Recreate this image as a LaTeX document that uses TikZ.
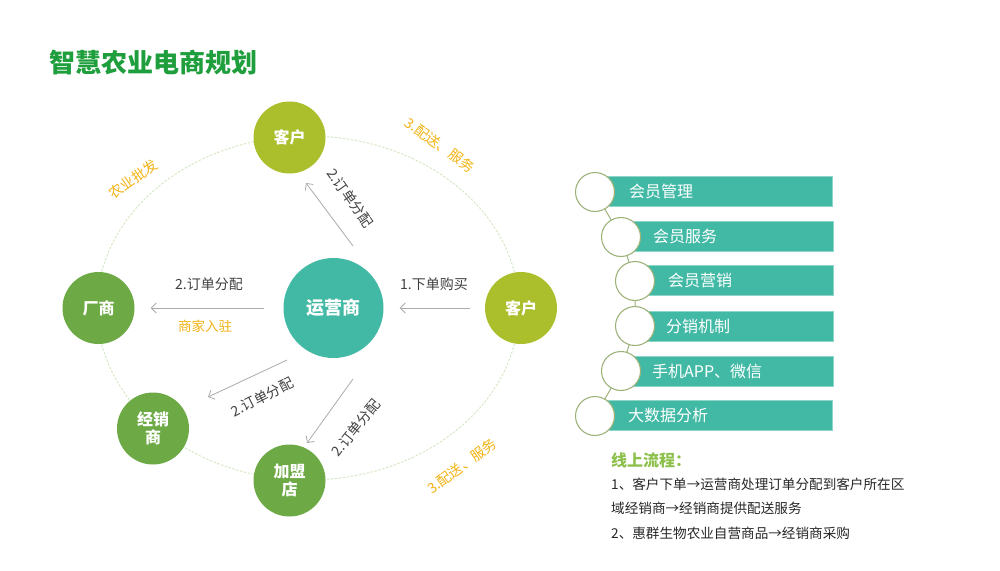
\documentclass[tikz,border=0pt]{standalone}
\usepackage{fontspec}
\setmainfont{Noto Sans CJK SC}
\usetikzlibrary{arrows.meta}
\definecolor{olive}{HTML}{AABF2B}
\definecolor{leaf}{HTML}{6DAA45}
\definecolor{tealc}{HTML}{42B9A5}
\definecolor{gold}{HTML}{F2B213}
\definecolor{ringc}{HTML}{D3E6C1}
\definecolor{arrg}{HTML}{ABABAB}
\definecolor{labg}{HTML}{404040}
\definecolor{titleg}{HTML}{1E9E3C}
\definecolor{flowg}{HTML}{8CC04A}
\definecolor{chainc}{HTML}{9DB37A}
\begin{document}
\begin{tikzpicture}[x=1pt,y=-1pt,
  bignode/.style={circle,inner sep=0pt,text=white,font=\fontsize{16}{18}\selectfont\bfseries,align=center},
  oliveball/.style={bignode,fill=olive,minimum size=72pt},
  leafball/.style={bignode,fill=leaf,minimum size=72pt},
  arr/.style={draw=arrg,line width=0.8pt,-{Straight Barb[length=5pt,width=10pt]}},
  lab/.style={text=labg,font=\fontsize{14}{16}\selectfont,inner sep=0pt},
  glab/.style={text=gold,font=\fontsize{14}{16}\selectfont,inner sep=0pt},
  barbox/.style={fill=tealc,draw=tealc!60!white,line width=0.5pt,minimum height=30pt,inner sep=0pt,anchor=west},
  bartext/.style={text=white,font=\fontsize{16}{18}\selectfont,inner sep=0pt,anchor=west},
  ringnode/.style={circle,fill=white,draw=chainc,line width=1.1pt,minimum size=39pt,inner sep=0pt},
  flowtext/.style={text=black!85,font=\fontsize{13.6}{16}\selectfont,inner sep=0pt,anchor=west}
]
\useasboundingbox (0,0) rectangle (1000,570);

% title
\node[anchor=west,inner sep=0pt,text=titleg,font=\fontsize{26}{28}\selectfont\bfseries] (title) at (49,63) {智慧农业电商规划};

% ring
\draw[ringc,line width=0.9pt,dash pattern=on 2.5pt off 1.5pt] (308,308) ellipse [x radius=211pt, y radius=172pt];

% nodes
\node[oliveball] (khtop) at (289.5,137.5) {客户};
\node[oliveball] (khright) at (521,308) {客户};
\node[leafball] (cs) at (98.5,308) {厂商};
\node[leafball] (jxs) at (153,428.5) {经销\\商};
\node[leafball] (jmd) at (289.5,480.5) {加盟\\店};
\node[bignode,fill=tealc,minimum size=100pt,font=\fontsize{18}{20}\selectfont\bfseries] (yys) at (333.5,308) {运营商};

% arrow end points
\coordinate (a1s) at (353,246);
\coordinate (a1e) at (306,183);
\coordinate (a3s) at (287,360);
\coordinate (a3e) at (208,397);
\coordinate (a4s) at (353,379);
\coordinate (a4e) at (307,443);

\draw[arr] (a1s) -- (a1e);
\draw[arr,shorten <=15pt,shorten >=16pt] (khright) -- (yys);
\draw[arr,shorten <=19pt,shorten >=16pt] (yys) -- (cs);
\draw[arr] (a3s) -- (a3e);
\draw[arr] (a4s) -- (a4e);

% labels
\node[lab,rotate=-55] (l1) at (350,198) {2.订单分配};
\node[lab] (l2) at (434,284) {1.下单购买};
\node[lab] (l3) at (209,284) {2.订单分配};
\node[glab,font=\fontsize{13.5}{16}\selectfont] (l4) at (205,326) {商家入驻};
\node[lab,rotate=27] (l5) at (262,397) {2.订单分配};
\node[lab,rotate=51] (l6) at (356,428) {2.订单分配};
\node[glab,rotate=35] (l7) at (133,179) {农业批发};
\node[glab,rotate=-36] (l8) at (440,145) {3.配送、服务};
\node[glab,rotate=36] (l9) at (462,466) {3.配送、服务};

% right list
\draw[chainc,line width=1pt] (595,192) -- (621,237) -- (635,281) -- (635,326) -- (621,371) -- (595,416);
\node[barbox,minimum width=237pt] (b1) at (595,191.5) {};
\node[barbox,minimum width=212pt] (b2) at (621,236) {};
\node[barbox,minimum width=198pt] (b3) at (635,280.5) {};
\node[barbox,minimum width=198pt] (b4) at (635,326) {};
\node[barbox,minimum width=212pt] (b5) at (621,371) {};
\node[barbox,minimum width=237pt] (b6) at (595,415.5) {};
\node[ringnode] (c1) at (595,192) {};
\node[ringnode] (c2) at (621,237) {};
\node[ringnode] (c3) at (635,281) {};
\node[ringnode] (c4) at (635,326) {};
\node[ringnode] (c5) at (621,371) {};
\node[ringnode] (c6) at (595,416) {};
\node[bartext] (t1) at (629,191.5) {会员管理};
\node[bartext] (t2) at (653,236) {会员服务};
\node[bartext] (t3) at (668,280.5) {会员营销};
\node[bartext] (t4) at (666,326) {分销机制};
\node[bartext] (t5) at (652,371) {手机APP、微信};
\node[bartext] (t6) at (628,415.5) {大数据分析};

% flow text
\node[anchor=west,inner sep=0pt,text=flowg,font=\fontsize{16}{18}\selectfont\bfseries] (ft) at (611,460) {线上流程：};
\node[flowtext] (f1) at (611,484) {1、客户下单→运营商处理订单分配到客户所在区};
\node[flowtext] (f2) at (611,508) {域经销商→经销商提供配送服务};
\node[flowtext] (f3) at (611,533) {2、惠群生物农业自营商品→经销商采购};
\end{tikzpicture}
\end{document}
